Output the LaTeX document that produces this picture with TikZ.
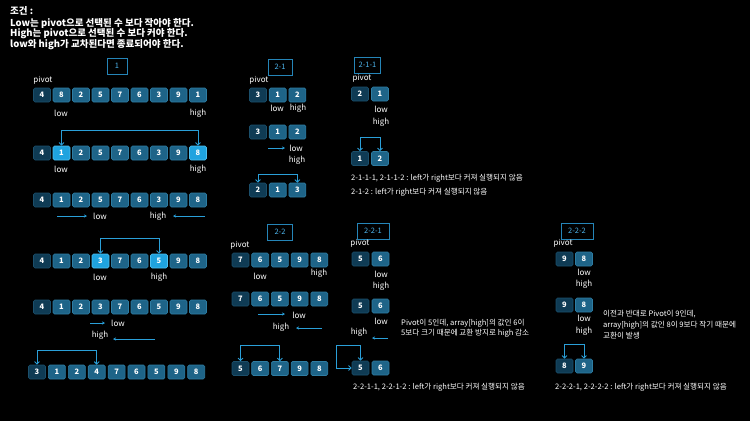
\documentclass[tikz,border=0pt]{standalone}
\usepackage{fontspec}
\setmainfont{Noto Sans CJK KR}
\usetikzlibrary{arrows.meta,calc}
\definecolor{cP}{HTML}{0F3B54}
\definecolor{cN}{HTML}{1E6488}
\definecolor{cH}{HTML}{1FA3DF}
\definecolor{bP}{HTML}{1B4F6B}
\definecolor{bN}{HTML}{2E7DA3}
\definecolor{bH}{HTML}{4FC0F0}
\definecolor{arr}{HTML}{2A9FD8}
\definecolor{secc}{HTML}{2585B8}
\definecolor{sect}{HTML}{4DB4EC}
\tikzset{
 cellbase/.style={minimum width=17pt, minimum height=14pt, inner sep=0pt, rounded corners=1.5pt, line width=0.6pt, text=white, font=\fontsize{7.5}{8}\selectfont\bfseries},
 nrm/.style={cellbase, fill=cN, draw=bN},
 pvt/.style={cellbase, fill=cP, draw=bP},
 hil/.style={cellbase, fill=cH, draw=bH},
 lbl/.style={text=white, font=\fontsize{8}{9}\selectfont, inner sep=0pt},
 secbox/.style={draw=secc, line width=0.8pt, text=sect, font=\fontsize{7.5}{8}\selectfont, minimum height=16pt, inner sep=0pt},
 note/.style={text=white, font=\fontsize{7.6}{8}\selectfont, anchor=west, inner sep=0pt},
 head/.style={text=white, font=\fontsize{9.5}{10}\selectfont\bfseries, anchor=west, inner sep=0pt},
 brk/.style={draw=arr, line width=0.9pt, {Straight Barb[length=2.5pt,width=5pt]}-{Straight Barb[length=2.5pt,width=5pt]}},
 mv/.style={draw=arr, line width=0.9pt, -{Stealth[length=3pt,width=3pt]}},
}
\newcommand\crow[5]{\foreach[count=\i] \v/\s in {#5}{\edef\x{\noexpand\node[\s] (#1-\i) at ({#2+(\i-1)*#3},#4) {\v};}\x}}
\begin{document}
\begin{tikzpicture}[x=1pt,y=-1pt]
\fill[black] (0,0) rectangle (750,421);
\useasboundingbox (0,0) rectangle (750,421);
% header
\node[head] (h0) at (10,11) {조건 :};
\node[head] (h1) at (10,23) {Low는 pivot으로 선택된 수 보다 작아야 한다.};
\node[head] (h2) at (10,34) {High는 pivot으로 선택된 수 보다 커야 한다.};
\node[head] (h3) at (10,45) {low와 high가 교차된다면 종료되어야 한다.};
% section 1
\node[secbox, minimum width=20pt] (s1) at (117,66) {1};
\node[lbl] (pv1) at (43,80) {pivot};
\crow{A}{42}{19.5}{95}{4/pvt,8/nrm,2/nrm,5/nrm,7/nrm,6/nrm,3/nrm,9/nrm,1/nrm}
\node[lbl] (lA) at (61,113) {low};
\node[lbl] (hA) at (198,113) {high};
\crow{B}{42}{19.5}{153}{4/pvt,1/hil,2/nrm,5/nrm,7/nrm,6/nrm,3/nrm,9/nrm,8/hil}
\draw[brk] (B-2.north) -- ++(0,-15) -| (B-9.north);
\node[lbl] (lB) at (61,169) {low};
\node[lbl] (hB) at (198,169) {high};
\crow{C}{42}{19.5}{200}{4/pvt,1/nrm,2/nrm,5/nrm,7/nrm,6/nrm,3/nrm,9/nrm,8/nrm}
\node[lbl] (lC) at (100,216) {low};
\node[lbl] (hC) at (158,216) {high};
\coordinate (c1s) at (57,216); \coordinate (c1e) at (87,216);
\coordinate (c2s) at (205,216); \coordinate (c2e) at (173,216);
\draw[mv] (c1s) -- (c1e);
\draw[mv] (c2s) -- (c2e);
\crow{D}{42}{19.5}{261}{4/pvt,1/nrm,2/nrm,3/hil,7/nrm,6/nrm,5/hil,9/nrm,8/nrm}
\draw[brk] (D-4.north) -- ++(0,-15) -| (D-7.north);
\node[lbl] (lD) at (100,277) {low};
\node[lbl] (hD) at (159,277) {high};
\crow{E}{42}{19.5}{307}{4/pvt,1/nrm,2/nrm,3/nrm,7/nrm,6/nrm,5/nrm,9/nrm,8/nrm}
\node[lbl] (lE) at (118,323) {low};
\node[lbl] (hE) at (100,335) {high};
\coordinate (e1s) at (90,323); \coordinate (e1e) at (105,323);
\coordinate (e2s) at (155,339); \coordinate (e2e) at (113,339);
\draw[mv] (e1s) -- (e1e);
\draw[mv] (e2s) -- (e2e);
\crow{F}{37}{19.9}{372}{3/pvt,1/nrm,2/nrm,4/nrm,7/nrm,6/nrm,5/nrm,9/nrm,8/nrm}
\draw[brk] (F-1.north) -- ++(0,-14) -| (F-4.north);
% section 2-1
\node[secbox, minimum width=24pt] (s21) at (280,67) {2-1};
\node[lbl] (pv21) at (259,80) {pivot};
\crow{G}{258}{19.7}{95}{3/pvt,1/nrm,2/nrm}
\node[lbl] (lG) at (277,108) {low};
\node[lbl] (hG) at (298,108) {high};
\crow{Hr}{258}{19.7}{132}{3/pvt,1/nrm,2/nrm}
\node[lbl] (lH) at (296,148) {low};
\node[lbl] (hH) at (297,160) {high};
\coordinate (g1s) at (268,148); \coordinate (g1e) at (285,148);
\draw[mv] (g1s) -- (g1e);
\crow{I}{258}{19.7}{190}{2/pvt,1/nrm,3/nrm}
\draw[brk] (I-1.north) -- ++(0,-8) -| (I-3.north);
% section 2-1-1
\node[secbox, minimum width=26pt] (s211) at (367.5,65) {2-1-1};
\node[lbl] (pv211) at (362,78) {pivot};
\crow{J}{360}{20}{94}{2/pvt,1/nrm}
\node[lbl] (lJ) at (381,109) {low};
\node[lbl] (hJ) at (381,122) {high};
\crow{K}{360}{20}{158.5}{1/pvt,2/nrm}
\draw[brk] (K-1.north) -- ++(0,-14) -| (K-2.north);
\node[note] (t1) at (351,178) {2-1-1-1, 2-1-1-2 : left가 right보다 커져 실행되지 않음};
\node[note] (t2) at (351,192) {2-1-2 : left가 right보다 커져 실행되지 않음};
% section 2-2
\node[secbox, minimum width=25pt] (s22) at (280,232) {2-2};
\node[lbl] (pv22) at (240,245) {pivot};
\crow{L}{240.5}{19.7}{260}{7/pvt,6/nrm,5/nrm,9/nrm,8/nrm}
\node[lbl] (lL) at (260,276) {low};
\node[lbl] (hL) at (319,273) {high};
\crow{M}{240.5}{19.7}{299}{7/pvt,6/nrm,5/nrm,9/nrm,8/nrm}
\node[lbl] (lM) at (299,315) {low};
\node[lbl] (hM) at (281,327) {high};
\coordinate (m1s) at (258,314); \coordinate (m1e) at (285,314);
\coordinate (m2s) at (322,328); \coordinate (m2e) at (296,328);
\draw[mv] (m1s) -- (m1e);
\draw[mv] (m2s) -- (m2e);
\crow{Nr}{240.5}{19.7}{368.5}{5/pvt,6/nrm,7/nrm,9/nrm,8/nrm}
\draw[brk] (Nr-1.north) -- ++(0,-16) -| (Nr-3.north);
% section 2-2-1
\node[secbox, minimum width=32pt] (s221) at (373,231) {2-2-1};
\node[lbl] (pv221) at (360,243) {pivot};
\crow{O}{360.5}{20}{259}{5/pvt,6/nrm}
\node[lbl] (lO) at (381,274) {low};
\node[lbl] (hO) at (381,286) {high};
\crow{Pr}{360.5}{20}{306}{5/pvt,6/nrm}
\node[lbl] (lP) at (381,321) {low};
\node[lbl] (hP) at (359,332) {high};
\coordinate (p1s) at (388,338); \coordinate (p1e) at (372,338);
\draw[mv] (p1s) -- (p1e);
\node[note] (t3) at (401,323) {Pivot이 5인데, array[high]의 값인 6이};
\node[note] (t4) at (401,333) {5보다 크기 때문에 교환 방지로 high 감소};
\crow{Q}{360.5}{20}{368}{5/pvt,6/nrm}
\draw[brk] (Q-1.north) -- ++(0,-15) -| ($(Q-1.west)+(-15,0)$) -- (Q-1.west);
\node[note] (t5) at (353,387) {2-2-1-1, 2-2-1-2 : left가 right보다 커져 실행되지 않음};
% section 2-2-2
\node[secbox, minimum width=32pt] (s222) at (577,231) {2-2-2};
\node[lbl] (pv222) at (563,243) {pivot};
\crow{R}{564.5}{19.5}{259}{9/pvt,8/nrm}
\node[lbl] (lR) at (584,272) {low};
\node[lbl] (hR) at (584,284) {high};
\crow{S}{564.5}{19.5}{305}{9/pvt,8/nrm}
\node[lbl] (lS) at (584,318) {low};
\node[lbl] (hS) at (584,331) {high};
\node[note] (t6) at (603,314) {이전과 반대로 Pivot이 9인데,};
\node[note] (t7) at (603,325) {array[high]의 값인 8이 9보다 작기 때문에};
\node[note] (t8) at (603,336) {교환이 발생};
\crow{U}{564.5}{19.5}{366}{8/pvt,9/nrm}
\draw[brk] (U-1.north) -- ++(0,-14) -| (U-2.north);
\node[note] (t9) at (555,387) {2-2-2-1, 2-2-2-2 : left가 right보다 커져 실행되지 않음};
\end{tikzpicture}
\end{document}
